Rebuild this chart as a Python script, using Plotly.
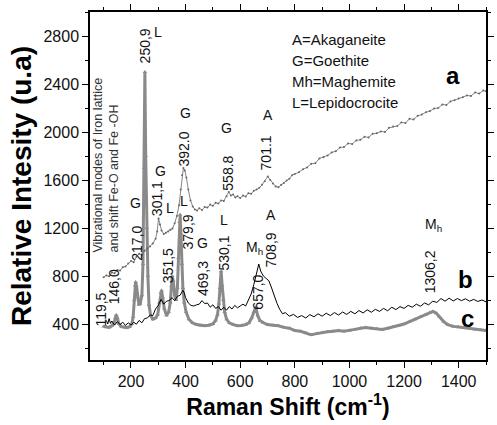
import plotly.graph_objects as go

# ---------------- data ----------------
a_x = [100,110,120,130,140,150,160,170,180,190,200,210,220,230,240,250,260,270,280,290,296,301,306,312,320,328,336,344,352,360,368,376,382,387,392,397,403,410,418,426,434,442,450,460,470,480,490,500,510,520,530,540,550,558,566,574,582,590,600,610,620,630,640,650,660,670,680,690,701,710,720,730,740,750,760,770,780,790,800,815,830,845,860,875,890,905,920,935,950,965,980,995,1010,1025,1040,1055,1070,1085,1100,1115,1130,1145,1160,1175,1190,1205,1220,1235,1250,1265,1280,1295,1310,1325,1340,1355,1370,1385,1400,1415,1430,1445,1460,1475,1490,1500]
a_y = [790,805,798,830,822,850,845,872,880,905,925,915,960,985,975,1010,1030,1045,1070,1110,1170,1280,1230,1180,1150,1160,1170,1185,1195,1240,1300,1390,1520,1640,1700,1680,1620,1520,1430,1380,1355,1345,1365,1350,1375,1370,1395,1385,1410,1405,1430,1425,1465,1500,1470,1480,1455,1465,1450,1470,1462,1490,1485,1510,1520,1535,1560,1590,1630,1600,1570,1545,1540,1560,1575,1595,1610,1640,1650,1665,1690,1705,1735,1740,1780,1790,1805,1830,1840,1870,1875,1905,1900,1930,1935,1960,1955,1985,1990,2005,2000,2035,2045,2050,2080,2075,2110,2105,2135,2145,2165,2175,2195,2200,2230,2225,2255,2265,2280,2290,2305,2300,2330,2320,2345,2340]

b_x = [110,115,120,125,130,140,150,160,170,180,190,200,210,220,230,240,250,260,270,280,290,300,310,320,330,340,350,360,370,380,390,395,400,410,420,430,440,450,460,470,480,490,500,510,520,530,540,550,560,570,580,590,600,610,620,630,640,650,660,668,675,685,695,705,715,725,735,745,755,765,780,795,810,825,840,855,870,885,900,915,930,945,960,975,990,1005,1020,1035,1050,1065,1080,1095,1110,1125,1140,1155,1170,1185,1200,1215,1230,1245,1260,1275,1290,1305,1320,1335,1350,1365,1380,1395,1410,1425,1440,1455,1470,1485,1500]
b_y = [430,400,445,405,425,390,420,395,415,388,410,392,415,398,430,410,445,450,475,470,525,555,605,565,590,595,620,595,630,640,680,660,620,575,555,550,560,565,595,570,575,540,560,530,545,515,540,515,545,525,555,535,550,565,550,600,650,730,820,900,840,800,780,760,700,630,570,520,485,495,465,480,455,470,450,478,460,485,465,490,470,495,475,500,480,505,485,512,492,518,498,522,505,530,510,540,520,545,530,555,540,565,548,575,560,590,580,612,590,615,592,612,595,610,590,605,588,600,585]

c_x = [100,110,120,130,138,143,146,150,156,165,175,185,195,203,208,212,215,217,220,224,229,234,240,244,248,251,254,258,262,266,272,280,290,298,304,309,312,316,322,330,338,344,348,351,355,360,365,370,374,378,380,383,386,390,395,402,412,425,440,455,470,485,500,510,517,522,526,530,534,538,543,550,560,575,590,605,620,632,642,650,657,664,672,685,700,720,740,760,780,800,820,840,860,880,900,920,940,960,980,1000,1020,1040,1060,1080,1100,1120,1140,1160,1180,1200,1220,1240,1260,1280,1295,1306,1318,1330,1345,1360,1380,1400,1420,1440,1460,1480,1500]
c_y = [380,375,372,385,410,450,475,450,400,378,372,370,378,400,460,600,720,750,720,620,560,570,640,900,1700,2500,1800,1200,800,560,470,440,450,480,580,660,680,620,530,470,500,580,720,800,760,640,600,700,950,1250,1310,1150,900,700,580,500,440,410,395,388,385,390,400,430,480,570,700,840,720,600,500,440,410,395,385,388,395,410,450,500,540,470,430,410,395,390,385,372,365,345,340,325,310,320,330,335,340,345,340,345,355,365,370,365,360,355,365,375,385,400,420,440,460,480,495,505,490,460,420,395,380,375,370,365,355,350,345]

# peak labels: (text, x, y, angle)
peak_labels = [
    ("250,9", 253, 2717, -90), ("L", 300, 2833, 0),
    ("G", 400, 2158, 0), ("392.0", 396, 1858, -90),
    ("G", 550, 2033, 0), ("558.8", 554, 1658, -90),
    ("301,1", 296, 1442, -90), ("G", 307, 1675, 0),
    ("G", 218, 1408, 0), ("217,0", 221, 1075, -90),
    ("L", 343, 1367, 0), ("L", 396, 1425, 0),
    ("379,9", 407, 1167, -90), ("351,5", 336, 883, -90),
    ("G", 461, 1075, 0), ("469,3", 464, 775, -90),
    ("L", 539, 1267, 0), ("530,1", 539, 992, -90),
    ("146,0", 139, 708, -90), ("119,5", 89, 517, -90),
    ("A", 700, 2142, 0), ("701.1", 696, 1825, -90),
    ("A", 711, 1308, 0), ("708,9", 711, 1017, -90),
    ("M<sub>h</sub>", 652, 1033, 0), ("657,0", 664, 667, -90),
    ("M<sub>h</sub>", 1306, 1225, 0), ("1306,2", 1296, 833, -90),
]
key_lines = ["A=Akaganeite", "G=Goethite", "Mh=Maghemite", "L=Lepidocrocite"]
curve_names = ["a", "b", "c"]

FONT = "Liberation Sans, Arial, sans-serif"

fig = go.Figure()
fig.add_trace(go.Scatter(x=c_x, y=c_y, mode="lines+markers", name="c",
                         line=dict(color="#8a8a8a", width=3),
                         marker=dict(symbol="triangle-up", size=4, color="#8a8a8a")))
fig.add_trace(go.Scatter(x=b_x, y=b_y, mode="lines", name="b",
                         line=dict(color="#000000", width=1)))
fig.add_trace(go.Scatter(x=a_x, y=a_y, mode="lines+markers", name="a",
                         line=dict(color="#666666", width=0.8),
                         marker=dict(symbol="circle", size=2, color="#666666")))

ann = []
for t, x, y, ang in peak_labels:
    ann.append(dict(x=x, y=y, xref="x", yref="y", text=t, showarrow=False,
                    textangle=ang, font=dict(size=14, color="#111", family=FONT)))
key_y = [2767, 2592, 2417, 2242]
for t, y in zip(key_lines, key_y):
    ann.append(dict(x=782, y=y, xref="x", yref="y", text=t, showarrow=False,
                    xanchor="left", font=dict(size=15, color="#111", family=FONT)))
for t, x, y in zip(curve_names, [1380, 1425, 1432], [2475, 767, 450]):
    ann.append(dict(x=x, y=y, xref="x", yref="y", text="<b>%s</b>" % t, showarrow=False,
                    font=dict(size=24, color="#000", family=FONT)))
ann.append(dict(x=107, y=1725, xref="x", yref="y",
                text="Vibrational modes of Iron lattice<br>and shift Fe-O and Fe -OH",
                showarrow=False, textangle=-90, align="left",
                font=dict(size=12.5, color="#333", family=FONT)))

axis_common = dict(showline=True, linecolor="black", linewidth=1.5, mirror="ticks",
                   ticks="outside", ticklen=6, tickwidth=1.2, tickcolor="black",
                   showgrid=False, zeroline=False,
                   tickfont=dict(size=16, color="#111", family=FONT))
fig.update_layout(
    width=497, height=425,
    margin=dict(l=90, r=3, t=12, b=65),
    paper_bgcolor="white", plot_bgcolor="white",
    showlegend=False,
    annotations=ann,
    xaxis=dict(range=[50, 1500], tick0=0, dtick=200,
               minor=dict(dtick=100, ticklen=3, ticks="outside", tickcolor="black"),
               title=dict(text="<b>Raman Shift (cm<sup>-1</sup>)</b>",
                          font=dict(size=23, family=FONT, color="#000"), standoff=4),
               **axis_common),
    yaxis=dict(range=[100, 3000], tick0=0, dtick=400,
               minor=dict(dtick=200, ticklen=3, ticks="outside", tickcolor="black"),
               title=dict(text="<b>Relative Intesity (u.a)</b>",
                          font=dict(size=28, family=FONT, color="#000"), standoff=4),
               **axis_common),
)
fig.write_html("out.html")
